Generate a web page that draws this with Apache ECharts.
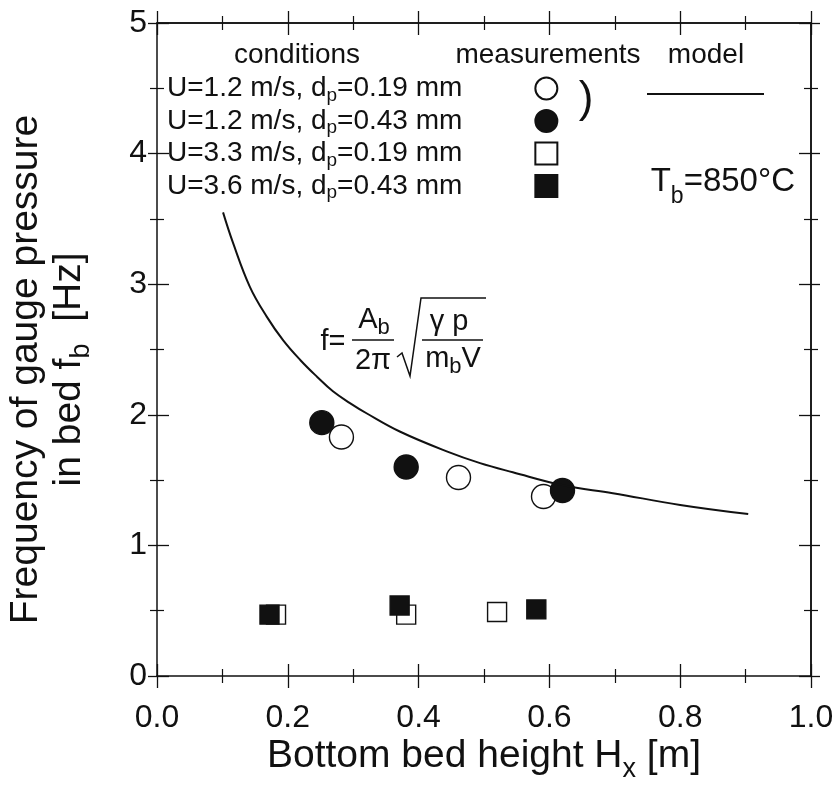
<!DOCTYPE html>
<html>
  <head>
    <meta charset="UTF-8" />
    <title>Bubble frequency vs bed height</title>
    <script src="https://cdn.jsdelivr.net/npm/echarts@6/dist/echarts.min.js"></script>
    <style>
      html, body { margin: 0; padding: 0; background: #fff; }
      #main { width: 840px; height: 785px; }
    </style>
  </head>
  <body>
    <div id="main"></div>
    <script>
      // legend rows, in the order of the picture
      const conditions = [
        'U=1.2 m/s, dp=0.19 mm',
        'U=1.2 m/s, dp=0.43 mm',
        'U=3.3 m/s, dp=0.19 mm',
        'U=3.6 m/s, dp=0.43 mm',
      ]
      // measurements [H_x in m, f_b in Hz]
      const openCircles = [[0.282, 1.83], [0.461, 1.52], [0.591, 1.375]]
      const filledCircles = [[0.252, 1.94], [0.381, 1.60], [0.620, 1.42]]
      const openSquares = [[0.182, 0.47], [0.381, 0.47], [0.520, 0.49]]
      const filledSquares = [[0.172, 0.47], [0.371, 0.54], [0.580, 0.51]]
      // model curve
      const modelCurve = [
        [0.101, 3.55], [0.116, 3.32], [0.142, 2.98], [0.168, 2.75],
        [0.193, 2.57], [0.219, 2.42], [0.245, 2.29], [0.269, 2.18],
        [0.295, 2.09], [0.321, 2.01], [0.372, 1.87], [0.443, 1.72],
        [0.494, 1.63], [0.544, 1.56], [0.621, 1.46], [0.697, 1.40],
        [0.800, 1.31], [0.904, 1.24],
      ]
      const xTicks = { min: 0, max: 1, interval: 0.2 }
      const yTicks = { min: 0, max: 5, interval: 1 }

      const font = 'Liberation Sans, Arial, Helvetica, sans-serif'
      const ink = '#111'

      // subscript: smaller text pushed down by a top padding
      const sub = (size, drop) => ({
        fontSize: size, fontFamily: font, color: ink, fill: ink,
        verticalAlign: 'middle', lineHeight: 8, padding: [drop * 2, 0, 0, 0],
      })
      const plain = (size, lh) => ({
        fontSize: size, fontFamily: font, color: ink, fill: ink,
        verticalAlign: 'middle', lineHeight: lh,
      })

      // one axis per side and direction, so ticks cross the frame
      let makeX = function (position, inside, main) {
        return {
          type: 'value', position: position, ...xTicks,
          axisLine: { show: main || position === 'top', onZero: false, lineStyle: { color: ink, width: 1.5 } },
          axisTick: { show: true, inside: inside, length: 12, lineStyle: { color: ink, width: 1.3 } },
          minorTick: { show: true, splitNumber: 2, length: 7, lineStyle: { color: ink, width: 1.2 } },
          splitLine: { show: false },
          axisLabel: {
            show: main, fontSize: 32, fontFamily: font, color: ink, margin: 26,
            formatter: (v) => v.toFixed(1),
          },
        }
      }
      let makeY = function (position, inside, main) {
        return {
          type: 'value', position: position, ...yTicks,
          axisLine: { show: main || position === 'right', onZero: false, lineStyle: { color: ink, width: 1.5 } },
          axisTick: { show: true, inside: inside, length: inside ? 12 : 9, lineStyle: { color: ink, width: 1.3 } },
          minorTick: { show: true, splitNumber: 2, length: 7, lineStyle: { color: ink, width: 1.2 } },
          splitLine: { show: false },
          axisLabel: { show: main, fontSize: 32, fontFamily: font, color: ink, margin: 10 },
        }
      }

      const xMain = makeX('bottom', false, true)
      xMain.name = '{n|Bottom bed height H}{s|x}{n| [m]}'
      xMain.nameLocation = 'middle'
      xMain.nameGap = 58
      xMain.nameMoveOverlap = false
      xMain.nameTextStyle = {
        fontSize: 39, fontFamily: font, color: ink, lineHeight: 44,
        rich: { n: plain(39, 44), s: sub(27, 14) },
      }
      const yMain = makeY('left', false, true)
      yMain.name = '{n|Frequency of gauge pressure}\n{n|in bed f}{s|b}{n|  [Hz]}'
      yMain.nameLocation = 'middle'
      yMain.nameGap = 66
      yMain.nameMoveOverlap = false
      yMain.nameTextStyle = {
        fontSize: 39, fontFamily: font, color: ink, lineHeight: 43,
        padding: [0, 40, 0, 0],
        rich: { n: plain(39, 43), s: sub(27, 12) },
      }

      const mark = (fill) => ({ color: fill, borderColor: ink, borderWidth: 1.4, opacity: 1 })

      const option = {
        animation: false,
        backgroundColor: '#fff',
        textStyle: { fontFamily: font },
        grid: { left: 157, right: 29, top: 23, bottom: 109, outerBoundsMode: 'none', containLabel: false },
        xAxis: [xMain, makeX('bottom', true, false), makeX('top', false, false), makeX('top', true, false)],
        yAxis: [yMain, makeY('left', true, false), makeY('right', false, false), makeY('right', true, false)],
        legend: [
          {
            data: conditions,
            orient: 'vertical',
            align: 'right',
            left: 167,
            top: 72,
            padding: 0,
            itemGap: -0.5,
            itemWidth: 22,
            itemHeight: 22,
            selectedMode: false,
            formatter: (name) => '{n|' + name.replace('dp', 'd}{s|p}{n|') + '}',
            textStyle: {
              fontSize: 28, fontFamily: font, color: ink, lineHeight: 26,
              padding: [0, 68, 0, 0],
              rich: { n: plain(28, 26), s: sub(19, 7) },
            },
          },
          {
            data: [{ name: 'model', icon: 'rect' }],
            left: 647,
            top: 93,
            padding: 0,
            itemWidth: 117,
            itemHeight: 2,
            selectedMode: false,
            formatter: () => '',
          },
        ],
        series: [
          {
            name: 'model', type: 'line', data: modelCurve, smooth: 0.4,
            symbol: 'none', lineStyle: { color: ink, width: 2 }, itemStyle: { color: ink },
          },
          { name: conditions[2], type: 'scatter', data: openSquares, symbol: 'rect', symbolSize: 19, itemStyle: mark('#fff') },
          { name: conditions[3], type: 'scatter', data: filledSquares, symbol: 'rect', symbolSize: 19, itemStyle: mark(ink) },
          { name: conditions[0], type: 'scatter', data: openCircles, symbol: 'circle', symbolSize: 24, itemStyle: mark('#fff') },
          { name: conditions[1], type: 'scatter', data: filledCircles, symbol: 'circle', symbolSize: 24, itemStyle: mark(ink) },
        ],
        graphic: [
          // legend column headers
          { type: 'text', x: 297, y: 55, style: { text: 'conditions', font: '28px ' + font, fill: ink, align: 'center', verticalAlign: 'middle' } },
          { type: 'text', x: 548, y: 55, style: { text: 'measurements', font: '28px ' + font, fill: ink, align: 'center', verticalAlign: 'middle' } },
          { type: 'text', x: 706, y: 55, style: { text: 'model', font: '28px ' + font, fill: ink, align: 'center', verticalAlign: 'middle' } },
          { type: 'text', x: 586, y: 100, style: { text: ')', font: '44px ' + font, fill: ink, align: 'center', verticalAlign: 'middle' } },
          // bed temperature
          {
            type: 'text', x: 795, y: 182,
            style: {
              text: '{a|T}{b|b}{a|=850°C}', align: 'right', verticalAlign: 'middle',
              rich: { a: plain(33, 34), b: sub(23, 15) },
            },
          },
          // model formula
          { type: 'text', x: 333, y: 342, style: { text: 'f=', font: '29px ' + font, fill: ink, align: 'center', verticalAlign: 'middle' } },
          {
            type: 'text', x: 374, y: 320,
            style: {
              text: '{a|A}{b|b}', align: 'center', verticalAlign: 'middle',
              rich: { a: plain(29, 28), b: sub(22, 8) },
            },
          },
          { type: 'line', shape: { x1: 352, y1: 340, x2: 394, y2: 340 }, style: { stroke: ink, lineWidth: 1.5 } },
          { type: 'text', x: 373, y: 361, style: { text: '2π', font: '29px ' + font, fill: ink, align: 'center', verticalAlign: 'middle' } },
          { type: 'polyline', shape: { points: [[397, 357], [402, 353], [410, 376], [421, 298], [486, 298]] }, style: { stroke: ink, lineWidth: 1.5, fill: null } },
          { type: 'text', x: 449, y: 322, style: { text: 'γ p', font: '29px ' + font, fill: ink, align: 'center', verticalAlign: 'middle' } },
          { type: 'line', shape: { x1: 422, y1: 340, x2: 483, y2: 340 }, style: { stroke: ink, lineWidth: 1.5 } },
          {
            type: 'text', x: 453, y: 359,
            style: {
              text: '{a|m}{b|b}{a|V}', align: 'center', verticalAlign: 'middle',
              rich: { a: plain(29, 28), b: sub(22, 8) },
            },
          },
        ],
      }

      const chart = echarts.init(document.getElementById('main'))
      chart.setOption(option)
    </script>
  </body>
</html>
